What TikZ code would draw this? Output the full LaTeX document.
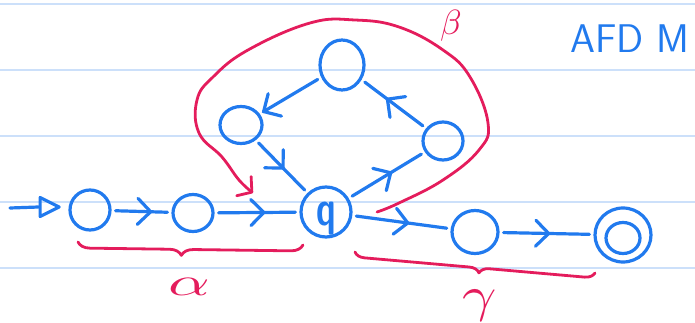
\documentclass[tikz,border=0pt]{standalone}
\usepackage{amsmath}
\usepackage{amssymb}
\usepackage{tikz}
\usetikzlibrary{arrows.meta,shapes.geometric,decorations.markings,decorations.pathreplacing}

\definecolor{azul}{RGB}{33,122,238}
\definecolor{rojo}{RGB}{228,28,92}
\definecolor{raya}{RGB}{204,224,250}

\tikzset{
  estado/.style={ellipse,draw=azul,line width=3.2pt,inner sep=0pt},
  flecha/.style={draw=azul,line width=3.2pt,line cap=round,shorten <=4pt,shorten >=4pt,
    decoration={markings,mark=at position #1 with {\arrow[azul]{Straight Barb[round,length=13pt,width=26pt]}}},
    postaction={decorate}},
  marca/.style={draw=rojo,line width=2.8pt,line cap=round,line join=round}
}

\begin{document}
\begin{tikzpicture}[x=1pt,y=1pt,yscale=-1,xscale=1]
        \clip (0,0) rectangle (695,323);

        %Straight Lines: ruled paper
        \foreach \y in {4,70,136,202,268}
          \draw [raya,line width=2.4pt] (0,\y) -- (695,\y);

        %Shape: Circles (states)
        \node [estado,minimum width=40pt,minimum height=40pt] (s1) at (90,210) {};
        \node [estado,minimum width=40pt,minimum height=37pt] (s2) at (193,213) {};
        \node [estado,minimum width=50pt,minimum height=50pt,text=azul,font=\fontsize{50}{50}\sffamily\bfseries] (q) at (326,212) {\raisebox{-13pt}[0pt][0pt]{\scalebox{0.7}[1]{q}}};
        \node [estado,minimum width=46pt,minimum height=43pt] (g1) at (475,232) {};
        \node [estado,minimum width=56pt,minimum height=54pt] (g2) at (623,235) {};
        \node [estado,minimum width=34pt,minimum height=31pt] (g2in) at (623,238) {};
        \node [estado,minimum width=42pt,minimum height=37pt] (b1) at (241,125) {};
        \node [estado,minimum width=44pt,minimum height=50pt] (b2) at (342,65) {};
        \node [estado,minimum width=40pt,minimum height=38pt] (b3) at (443,141) {};

        %Shape: start marker
        \node [isosceles triangle,isosceles triangle stretches,draw=azul,line width=3.2pt,line join=round,inner sep=0pt,minimum width=19pt,minimum height=19pt] (ini) at (46,207) {};
        \coordinate (cola) at (10,208);
        \draw [azul,line width=3.2pt,line cap=round] (cola) -- (ini.west);

        %Straight Lines: transitions
        \draw [flecha=0.68] (s1) -- (s2);
        \draw [flecha=0.6] (s2) -- (q);
        \draw [flecha=0.58] (q) -- (g1);
        \draw [flecha=0.54] (g1) -- (g2);
        \draw [flecha=0.96] (b2) -- (b1);
        \draw [flecha=0.55] (b1) -- (q);
        \draw [flecha=0.57] (q) -- (b3);
        \draw [flecha=0.62] (b3) -- (b2);

        %Curve: loop round the cycle
        \draw [marca,-{Straight Barb[round,length=10pt,width=24pt]}] plot [smooth,tension=0.7] coordinates {(377,212) (399,203) (443,180) (479,150) (488,123) (470,77) (443,50) (399,27) (355,20) (310,23) (248,50) (213,77) (197,100) (199,133) (222,157) (239,180) (253,193)};

        %Braces
        \draw [marca,decorate,decoration={brace,mirror,amplitude=12pt,aspect=0.46}] (78,242) -- (303,245);
        \draw [marca,decorate,decoration={brace,mirror,amplitude=10pt,aspect=0.52}] (355,252) -- (595,273);

        % Text Node
        \node [text=rojo,inner sep=0pt] (alfa) at (189,287) {\scalebox{6.5}[4]{$\alpha$}};
        % Text Node
        \node [text=rojo,inner sep=0pt] (beta) at (451,26) {\scalebox{3.5}{$\beta$}};
        % Text Node
        \node [text=rojo,inner sep=0pt] (gama) at (480,306) {\scalebox{6}[5]{$\gamma$}};
        % Text Node
        \node [anchor=base west,inner sep=0pt,text=azul,font=\fontsize{40}{40}\sffamily] (titulo) at (570,53) {AFD M};

\end{tikzpicture}
\end{document}
